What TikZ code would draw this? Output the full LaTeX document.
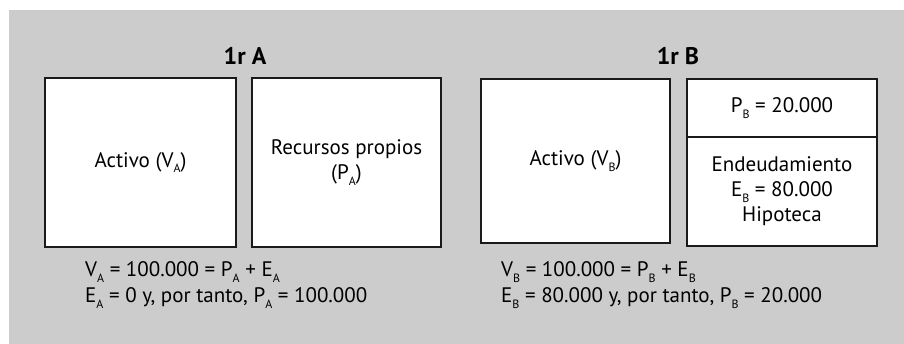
\documentclass[tikz,border=0pt]{standalone}
\usepackage{fontspec}
\setmainfont{PT Sans}
\newcommand\lowsub[1]{\raisebox{-0.5ex}{\fontsize{12}{12}\selectfont #1}}
\definecolor{bggray}{HTML}{CCCCCC}
\definecolor{boxline}{HTML}{1A1A1A}
\begin{document}
\begin{tikzpicture}[x=1pt,y=-1pt,
  box/.style={draw=boxline, line width=1.3pt, fill=white, inner sep=0pt, align=center,
    font=\fontsize{21}{25}\selectfont},
  title/.style={font=\fontsize{24}{28}\bfseries, anchor=base},
  eq/.style={font=\fontsize{21}{26}\selectfont, anchor=base west, inner sep=0pt, align=left}]
\useasboundingbox (0,0) rectangle (904,344);
\fill[bggray] (9,10) rectangle (904,344);
% titles
\node[title] (ta) at (245,65) {1r A};
\node[title] (tb) at (678,65) {1r B};
% company A
\node[box, minimum width=191pt, minimum height=169pt] (a1) at (140.5,162.5) {Activo (V\lowsub{A})};
\node[box, minimum width=189pt, minimum height=169pt] (a2) at (346.5,162.5) {Recursos propios\\(P\lowsub{A})};
% company B
\node[box, minimum width=189pt, minimum height=164pt] (b1) at (575.5,161) {Activo (V\lowsub{B})};
\node[box, minimum width=190pt, minimum height=58pt] (b2) at (782,108) {P\lowsub{B} = 20.000};
\node[box, minimum width=190pt, minimum height=109pt] (b3) at (782,191.5) {Endeudamiento\\E\lowsub{B} = 80.000\\Hipoteca};
% equations
\node[eq] (ea1) at (85,277) {V\lowsub{A} = 100.000 = P\lowsub{A} + E\lowsub{A}};
\node[eq] (ea2) at (85,303) {E\lowsub{A} = 0 y, por tanto, P\lowsub{A} = 100.000};
\node[eq] (eb1) at (501,277) {V\lowsub{B} = 100.000 = P\lowsub{B} + E\lowsub{B}};
\node[eq] (eb2) at (501,303) {E\lowsub{B} = 80.000 y, por tanto, P\lowsub{B} = 20.000};
\end{tikzpicture}
\end{document}
